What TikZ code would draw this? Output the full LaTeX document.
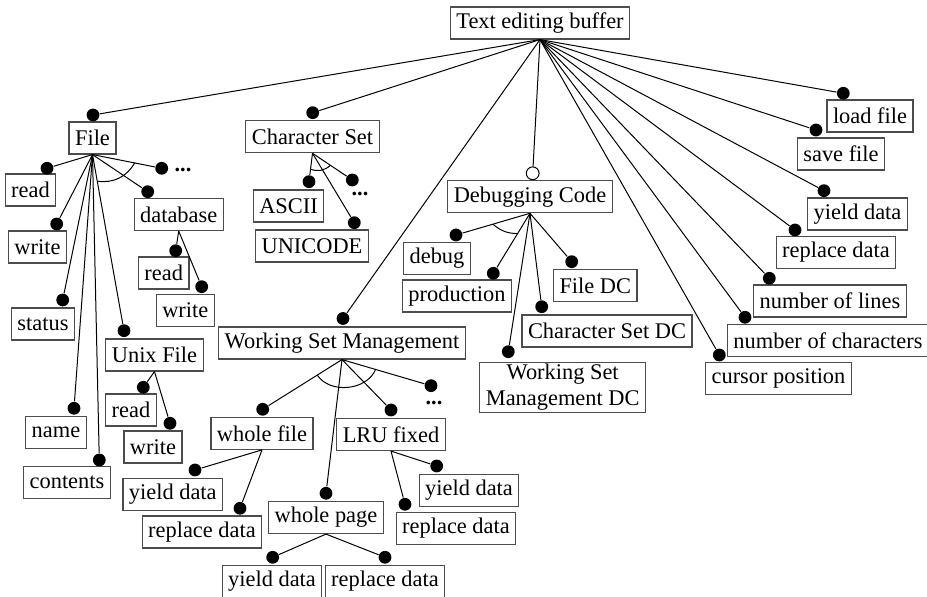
\documentclass[tikz,border=0pt]{standalone}
\usepackage{fontspec}
\setmainfont{Liberation Serif}
\usetikzlibrary{calc}

\tikzstyle{feat} = [draw=black!70, line width=0.6pt, fill=white, inner xsep=3pt, inner ysep=1pt, minimum height=16pt, font=\fontsize{11.2}{13}\selectfont]
\tikzstyle{mand} = [circle, fill=black, inner sep=0pt, minimum size=6.4pt]
\tikzstyle{opt} = [circle, draw=black, fill=white, line width=0.5pt, inner sep=0pt, minimum size=6.4pt]
\tikzstyle{more} = [inner sep=0pt, font=\fontsize{11.2}{13}\selectfont\bfseries]

\begin{document}
\begin{tikzpicture}[x=0.5pt, y=-0.5pt, line width=0.5pt]
  \useasboundingbox (0,0) rectangle (927,597);

  % root and its features
  \node (teb) at (540,23) [feat] {Text editing buffer};
  \node (f) at (92.5,138) [feat] {File};
  \node (cs) at (312.5,136.7) [feat] {Character Set};
  \node (dc) at (530,196.7) [feat] {Debugging Code};
  \node (w) at (342,343) [feat] {Working Set Management};
  \node (cp) at (778.5,378.3) [feat] {cursor position};
  \node (nc) at (828,340.5) [feat] {number of characters};
  \node (nl) at (830,301) [feat] {number of lines};
  \node (rd) at (836,252.5) [feat] {replace data};
  \node (yd) at (857.5,214) [feat] {yield data};
  \node (sf) at (841,154) [feat] {save file};
  \node (lf) at (870,116) [feat] {load file};

  \node (fd) at (93,115) [mand] {};
  \node (csd) at (312.7,112.7) [mand] {};
  \node (dcd) at (532.7,173.3) [opt] {};
  \node (wd) at (343,318.5) [mand] {};
  \node (cpd) at (719.3,355) [mand] {};
  \node (ncd) at (745,317.3) [mand] {};
  \node (nld) at (769.3,278.3) [mand] {};
  \node (rdd) at (795,230) [mand] {};
  \node (ydd) at (824,190.7) [mand] {};
  \node (sfd) at (816,130) [mand] {};
  \node (lfd) at (843.3,93.3) [mand] {};

  \foreach \n in {fd,csd,dcd,wd,cpd,ncd,nld,rdd,ydd,sfd,lfd}
    \draw (teb.south) -- (\n);

  % File
  \node (fr) at (30.5,190) [feat] {read};
  \node (fw) at (37.5,247) [feat] {write};
  \node (fs) at (43,324) [feat] {status};
  \node (fn) at (56,432.5) [feat] {name};
  \node (fc) at (67,482.5) [feat] {contents};
  \node (fu) at (154.5,355) [feat] {Unix File};
  \node (fb) at (178.7,214.5) [feat] {database};
  \node (fx) at (183,170) [more] {...};

  \node (frd) at (47,168.3) [mand] {};
  \node (fwd) at (56.7,224) [mand] {};
  \node (fsd) at (62.7,300) [mand] {};
  \node (fnd) at (74,408.3) [mand] {};
  \node (fcd) at (99.3,460) [mand] {};
  \node (fud) at (124,330.7) [mand] {};
  \node (fbd) at (147.7,191.7) [mand] {};
  \node (fxd) at (161.7,168.3) [mand] {};

  \foreach \n in {frd,fwd,fsd,fnd,fcd,fud,fbd,fxd}
    \draw (f.south) -- (\n);
  \draw ($(f.south)!21.5pt!(fxd)$) to [bend left=34] ($(f.south)!13.5pt!(fud)$);

  \node (fbr) at (163.7,273) [feat] {read};
  \node (fbw) at (185.3,310.5) [feat] {write};
  \node (fbrd) at (175.7,250.7) [mand] {};
  \node (fbwd) at (201.7,286.7) [mand] {};
  \draw (fb.south) -- (fbrd);
  \draw (fb.south) -- (fbwd);

  \node (fur) at (131,410) [feat] {read};
  \node (fuw) at (153,447) [feat] {write};
  \node (furd) at (143.3,387.3) [mand] {};
  \node (fuwd) at (170,423.3) [mand] {};
  \draw (fu.south) -- (furd);
  \draw (fu.south) -- (fuwd);

  % Character Set
  \node (csa) at (288.5,206) [feat] {ASCII};
  \node (csu) at (312,246) [feat] {UNICODE};
  \node (csx) at (360,194) [more] {...};
  \node (csad) at (309,181.7) [mand] {};
  \node (csud) at (354.3,222.7) [mand] {};
  \node (csxd) at (352.3,180) [mand] {};
  \foreach \n in {csad,csud,csxd}
    \draw (cs.south) -- (\n);
  \draw ($(cs.south)!8pt!(csad)$) to [bend right=31] ($(cs.south)!10.8pt!(csxd)$);

  % Debugging Code
  \node (dcb) at (437,258.3) [feat] {debug};
  \node (dcp) at (457,296) [feat] {production};
  \node (dcf) at (595.3,285.5) [feat] {File DC};
  \node (dcc) at (607,331) [feat] {Character Set DC};
  \node (dcw) at (562.7,387.5) [feat, align=center] {Working Set\\Management DC};
  \node (dcbd) at (456,235) [mand] {};
  \node (dcpd) at (493.3,273.3) [mand] {};
  \node (dcfd) at (571.7,261.7) [mand] {};
  \node (dccd) at (541.7,306.7) [mand] {};
  \node (dcwd) at (508.3,351.7) [mand] {};
  \foreach \n in {dcbd,dcpd,dcfd,dccd,dcwd}
    \draw (dc.south) -- (\n);
  \draw ($(dc.south)!19.3pt!(dcbd)$) to [bend right=20] ($(dc.south)!11.9pt!(dcpd)$);

  % Working Set Management
  \node (wf) at (262,433.3) [feat] {whole file};
  \node (wp) at (326,517.5) [feat] {whole page};
  \node (wl) at (391,434.5) [feat] {LRU fixed};
  \node (wx) at (434,403) [more] {...};
  \node (wfd) at (262.7,409.3) [mand] {};
  \node (wpd) at (326,493.3) [mand] {};
  \node (wld) at (391,410) [mand] {};
  \node (wxd) at (431,385.7) [mand] {};
  \foreach \n in {wfd,wpd,wld,wxd}
    \draw (w.south) -- (\n);
  \draw ($(w.south)!14.6pt!(wfd)$) to [bend right=62] ($(w.south)!17.5pt!(wxd)$);

  \node (wfy) at (172.8,494.2) [feat] {yield data};
  \node (wfr) at (202,532) [feat] {replace data};
  \node (wfyd) at (195,470) [mand] {};
  \node (wfrd) at (240,508.3) [mand] {};
  \draw (wf.south) -- (wfyd);
  \draw (wf.south) -- (wfrd);

  \node (wpy) at (272,581.5) [feat] {yield data};
  \node (wpr) at (385,581.5) [feat] {replace data};
  \node (wpyd) at (272.7,557.3) [mand] {};
  \node (wprd) at (385,557.3) [mand] {};
  \draw (wp.south) -- (wpyd);
  \draw (wp.south) -- (wprd);

  \node (wly) at (469,490.5) [feat] {yield data};
  \node (wlr) at (456,528.5) [feat] {replace data};
  \node (wlyd) at (436.7,466) [mand] {};
  \node (wlrd) at (405,504.3) [mand] {};
  \draw (wl.south) -- (wlyd);
  \draw (wl.south) -- (wlrd);
\end{tikzpicture}
\end{document}
